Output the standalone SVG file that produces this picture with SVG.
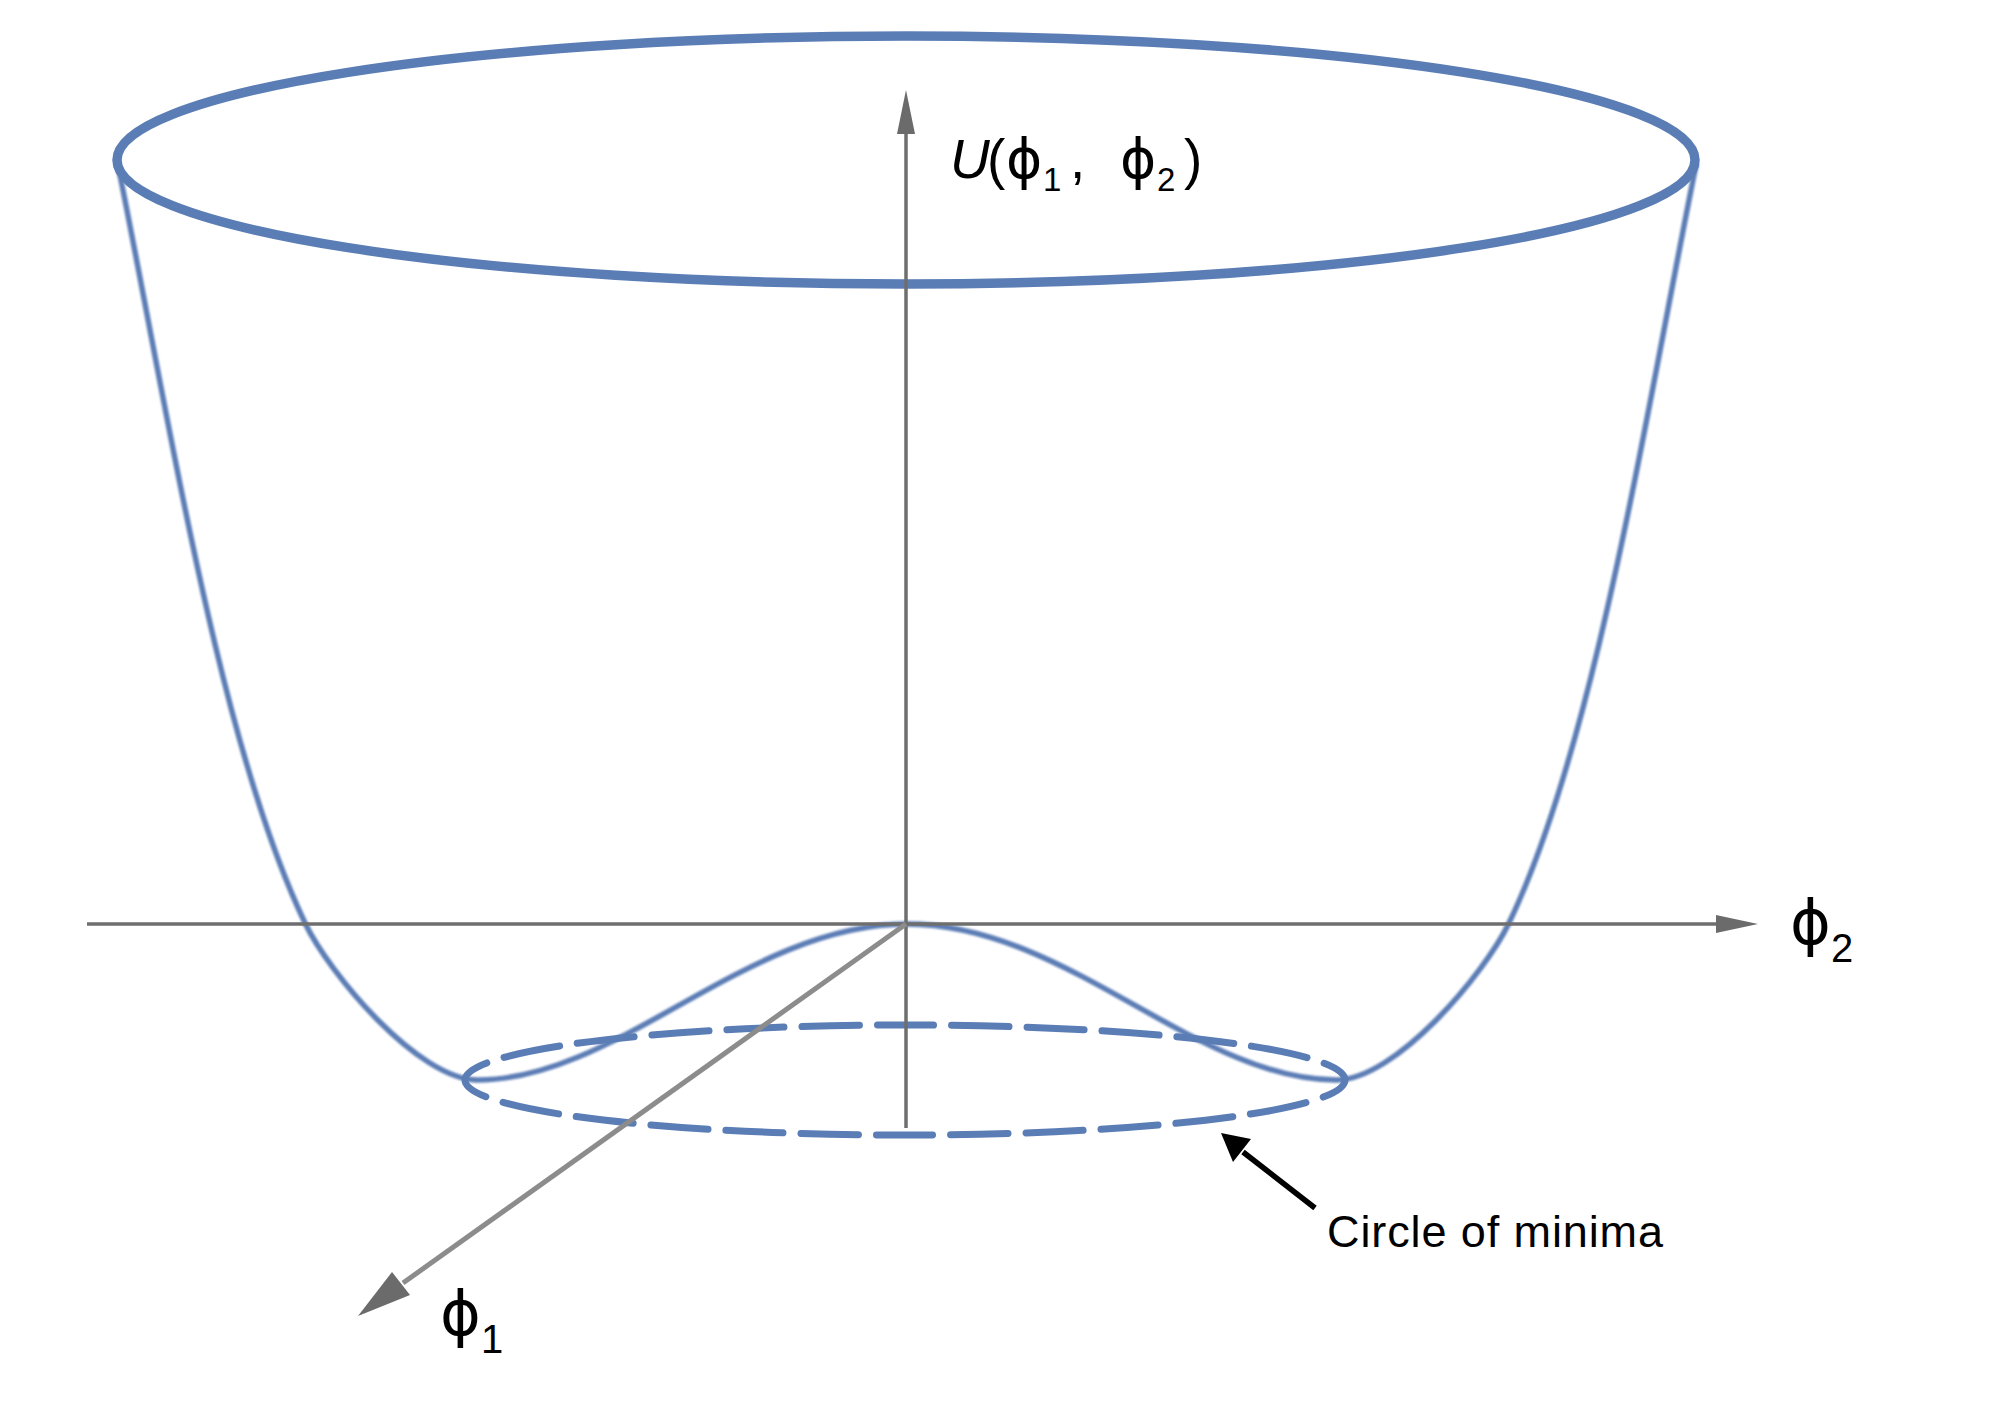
<svg xmlns="http://www.w3.org/2000/svg" width="2015" height="1402" viewBox="0 0 2015 1402">
<style>
.blue{fill:none;stroke:#5b7db5;stroke-linecap:round;stroke-linejoin:round}
.axis{stroke:#6e6e6e;stroke-width:3.5;fill:none}
.head{fill:#6b6b6b;stroke:none}
.lbl{font-family:"Liberation Sans","DejaVu Sans",Arial,sans-serif;fill:#000}
.phi{font-family:"DejaVu Sans","Liberation Sans",sans-serif}
</style>
<defs>
<filter id="soft" x="-5%" y="-5%" width="110%" height="110%"><feGaussianBlur stdDeviation="0.8"/></filter>
</defs>
<rect width="2015" height="1402" fill="#fff"/>
<g id="bowl">
<path id="potential-curve" class="blue" stroke-width="5.5" filter="url(#soft)" d="M118,165 C169,418 219,743 305,923 C329,973 418,1080 478,1080 C618,1080 747,924 907,924 C1067,924 1196,1080 1336,1080 C1396,1080 1485,973 1509,923 C1595,743 1645,418 1696,165"/>
<ellipse id="top-rim" class="blue" stroke-width="9.5" cx="906" cy="160" rx="789" ry="124"/>
</g>
<g id="minima-circle">
<ellipse class="blue" stroke-width="7" stroke-linecap="butt" cx="905" cy="1080" rx="440" ry="55" pathLength="1800" stroke-dasharray="57 18" stroke-dashoffset="28"/>
</g>
<g id="connectors">
<line class="axis" x1="906" y1="1128" x2="906" y2="130"/>
<polygon class="head" points="906,90 897,134 915,134"/>
<line class="axis" x1="87" y1="924" x2="1720" y2="924"/>
<polygon class="head" points="1758,924 1716,915 1716,933"/>
<line x1="906" y1="924" x2="403" y2="1283" stroke="#8c8c8c" stroke-width="5"/>
<polygon class="head" points="358,1316 392,1272 410,1295"/>
<line x1="1315" y1="1208" x2="1243" y2="1152" stroke="#000" stroke-width="5.5"/>
<polygon fill="#000" points="1221,1133 1251,1139 1233,1162"/>
</g>
<g id="label-U">
<text class="lbl" y="178" font-size="55"><tspan x="950" font-style="italic">U</tspan><tspan x="987">(</tspan><tspan class="phi" x="1006">ϕ</tspan><tspan x="1043" dy="13" font-size="33">1</tspan><tspan x="1070" dy="-13">,</tspan><tspan class="phi" x="1120">ϕ</tspan><tspan x="1157" dy="13" font-size="33">2</tspan><tspan x="1184" dy="-13">)</tspan></text>
</g>
<g id="label-phi2">
<text class="lbl" x="1790" y="944" font-size="62"><tspan class="phi">ϕ</tspan><tspan dy="18" font-size="40">2</tspan></text>
</g>
<g id="label-phi1">
<text class="lbl" x="440" y="1335" font-size="62"><tspan class="phi">ϕ</tspan><tspan dy="18" font-size="40">1</tspan></text>
</g>
<g id="label-minima">
<text class="lbl" x="1327" y="1247" font-size="45" textLength="336" lengthAdjust="spacing">Circle of minima</text>
</g>
</svg>
